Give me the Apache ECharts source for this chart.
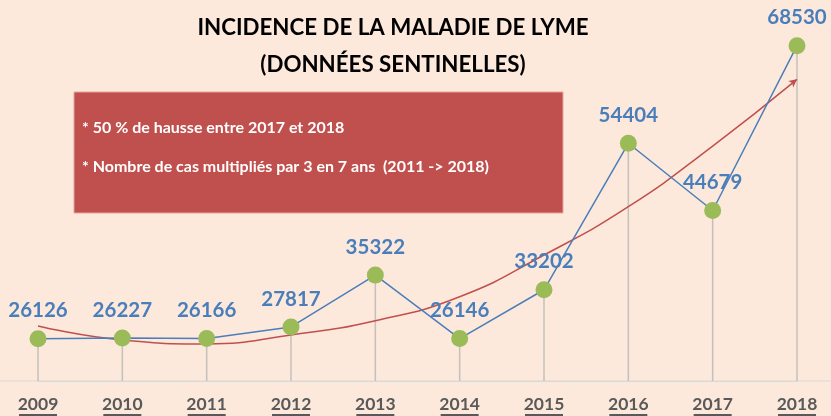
<!DOCTYPE html>
<html>
<head>
<meta charset="utf-8">
<script src="https://cdn.jsdelivr.net/npm/echarts@6/dist/echarts.min.js"></script>
<style>
  html, body { margin: 0; padding: 0; background: #FCE9DB; }
  #chart { width: 831px; height: 416px; }
</style>
</head>
<body>
<div id="chart"></div>
<script>
const years = ['2009', '2010', '2011', '2012', '2013', '2014', '2015', '2016', '2017', '2018']
const cases = [26126, 26227, 26166, 27817, 35322, 26146, 33202, 54404, 44679, 68530]
// courbe de tendance
const trend = [27960, 25930, 25360, 26660, 28730, 32200, 38230, 45220, 54000, 63660]
const titleLines = ['INCIDENCE DE LA MALADIE DE LYME', '(DONNÉES SENTINELLES)']
const notes = ['* 50 % de hausse entre 2017 et 2018', '* Nombre de cas multipliés par 3 en 7 ans  (2011 -> 2018)']

const font = 'Lato, "Open Sans", sans-serif'
const chart = echarts.init(document.getElementById('chart'))

const trendData = trend.map((v, i) => {
  if (i === trend.length - 1) {
    return { value: v, symbol: 'arrow', symbolSize: [6, 8], symbolRotate: -52 }
  }
  return v
})

let option = {
  backgroundColor: '#FCE9DB',
  animation: false,
  grid: { left: 38, right: 34, top: 35.5, bottom: 35, outerBoundsMode: 'none', containLabel: false },
  xAxis: {
    type: 'category',
    data: years,
    boundaryGap: false,
    axisTick: { show: false },
    axisLine: { lineStyle: { color: '#D9D9D9', width: 1 } },
    axisLabel: {
      margin: 14,
      formatter: v => '{a|' + v + '}\n{u|}',
      rich: {
        a: { fontFamily: font, fontSize: 17.5, fontWeight: 'bold', color: '#595959', lineHeight: 18 },
        u: { width: 38, height: 2, backgroundColor: '#595959', lineHeight: 4 }
      }
    }
  },
  yAxis: {
    type: 'value',
    min: 20000,
    max: 70000,
    show: false,
    splitLine: { show: false }
  },
  series: [
    {
      // traits verticaux
      type: 'bar',
      data: cases,
      barWidth: 1.5,
      itemStyle: { color: '#C4C0BC' },
      silent: true,
      z: 1
    },
    {
      type: 'line',
      data: trendData,
      smooth: true,
      symbol: 'none',
      showSymbol: true,
      lineStyle: { color: '#C0504D', width: 1.5 },
      itemStyle: { color: '#C0504D' },
      z: 2
    },
    {
      type: 'line',
      data: cases,
      symbol: 'circle',
      symbolSize: 17,
      lineStyle: { color: '#4A7EBB', width: 1.5 },
      itemStyle: { color: '#9BBB59' },
      label: {
        show: true,
        position: 'top',
        distance: 9,
        fontFamily: font,
        fontSize: 20.5,
        fontWeight: 'bold',
        color: '#4A7EBB'
      },
      z: 3
    }
  ],
  graphic: [
    {
      // ligne d'axe sur toute la largeur
      type: 'line',
      shape: { x1: 0, y1: 381, x2: 831, y2: 381 },
      style: { stroke: '#D9D9D9', lineWidth: 1 },
      z: 0
    },
    {
      type: 'text',
      x: 393,
      y: 9,
      style: {
        text: titleLines.join('\n'),
        textAlign: 'center',
        font: 'bold 22.3px ' + font,
        lineHeight: 37,
        fill: '#000000'
      }
    },
    {
      type: 'rect',
      shape: { x: 74, y: 92, width: 489, height: 121 },
      style: { fill: '#C0504D', stroke: '#E8A39C', lineWidth: 1 }
    },
    {
      type: 'text',
      x: 82,
      y: 128,
      style: { text: notes[0], font: 'bold 16px ' + font, fill: '#FFFFFF', textVerticalAlign: 'middle' }
    },
    {
      type: 'text',
      x: 82,
      y: 167,
      style: { text: notes[1], font: 'bold 16px ' + font, fill: '#FFFFFF', textVerticalAlign: 'middle' }
    }
  ]
}
chart.setOption(option)
</script>
</body>
</html>
